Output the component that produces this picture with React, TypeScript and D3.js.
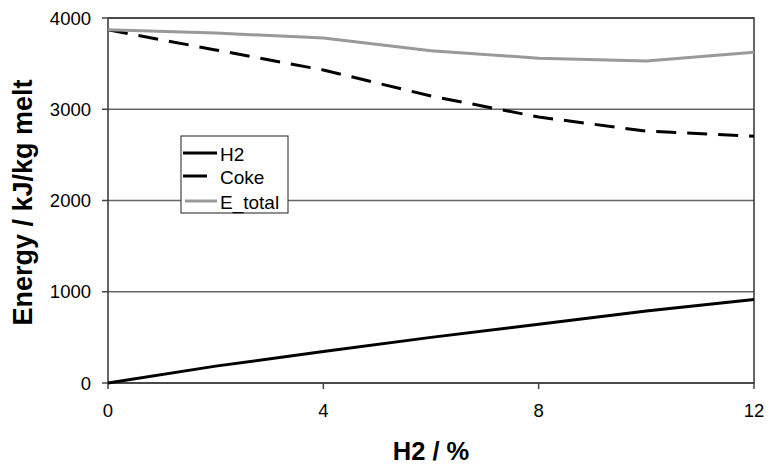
import * as d3 from "d3";

const xValues = [0, 2, 4, 6, 8, 10, 12];
const h2Values = [0, 185, 345, 500, 645, 790, 915];
const cokeValues = [3870, 3650, 3430, 3145, 2915, 2760, 2705];
const totalValues = [3870, 3835, 3780, 3640, 3560, 3530, 3625];
const xTicks = [0, 4, 8, 12];
const yTicks = [0, 1000, 2000, 3000, 4000];

const seriesList = [
  { name: "H2", values: h2Values, color: "#000", dash: "", legendX: [183, 217], legendY: 153 },
  { name: "Coke", values: cokeValues, color: "#000", dash: "20,11", legendX: [183, 207], legendY: 176 },
  { name: "E_total", values: totalValues, color: "#999", dash: "", legendX: [185, 217], legendY: 201 },
];

const W = 769;
const H = 466;
const LEFT = 108;
const RIGHT = 754;
const TOP = 18;
const BOTTOM = 383;
const FONT = "'Liberation Sans', Arial, sans-serif";

const App = () => {
  const x = d3.scaleLinear().domain([0, 12]).range([LEFT, RIGHT]);
  const y = d3.scaleLinear().domain([0, 4000]).range([BOTTOM, TOP]);

  const line = d3
    .line<number>()
    .x((_, i) => x(xValues[i]))
    .y((d) => y(d));

  return (
    <svg
      width={W}
      height={H}
      style={{ position: "absolute", left: 0, top: 0, background: "#fff" }}
    >
      {/* gridlines */}
      {yTicks.map((t) => (
        <line
          key={"g" + t}
          x1={LEFT}
          x2={RIGHT}
          y1={y(t)}
          y2={y(t)}
          stroke="#666"
          strokeWidth={1.5}
        />
      ))}
      {/* plot border */}
      <rect
        x={LEFT}
        y={TOP}
        width={RIGHT - LEFT}
        height={BOTTOM - TOP}
        fill="none"
        stroke="#333"
        strokeWidth={1.5}
      />
      {/* y ticks */}
      {yTicks.map((t) => (
        <g key={"y" + t}>
          <line x1={LEFT - 6} x2={LEFT} y1={y(t)} y2={y(t)} stroke="#444" strokeWidth={1.5} />
          <text
            x={LEFT - 17}
            y={y(t)}
            textAnchor="end"
            dominantBaseline="central"
            fontSize={18.5}
            fontFamily={FONT}
            fill="#000"
          >
            {t}
          </text>
        </g>
      ))}
      {/* x ticks */}
      {xTicks.map((t) => (
        <g key={"x" + t}>
          <line x1={x(t)} x2={x(t)} y1={BOTTOM} y2={BOTTOM + 6} stroke="#444" strokeWidth={1.5} />
          <text
            x={x(t)}
            y={BOTTOM + 34}
            textAnchor="middle"
            fontSize={18.5}
            fontFamily={FONT}
            fill="#000"
          >
            {t}
          </text>
        </g>
      ))}
      {/* series */}
      {seriesList.map((s) => (
        <path
          key={s.name}
          d={line(s.values) as string}
          fill="none"
          stroke={s.color}
          strokeWidth={3}
          strokeDasharray={s.dash}
          strokeLinejoin="round"
        />
      ))}
      {/* legend */}
      <g>
        <rect x={181} y={136} width={107} height={77} fill="#fff" stroke="#444" strokeWidth={1.2} />
        {seriesList.map((s) => (
          <g key={"l" + s.name}>
            <line
              x1={s.legendX[0]}
              x2={s.legendX[1]}
              y1={s.legendY}
              y2={s.legendY}
              stroke={s.color}
              strokeWidth={3}
            />
            <text
              x={220}
              y={s.legendY + 1}
              dominantBaseline="central"
              fontSize={19}
              fontFamily={FONT}
              fill="#000"
            >
              {s.name}
            </text>
          </g>
        ))}
      </g>
      {/* axis titles */}
      <text
        x={431}
        y={460}
        textAnchor="middle"
        fontSize={25.5}
        fontWeight="bold"
        fontFamily={FONT}
        fill="#000"
      >
        H2 / %
      </text>
      <text
        transform={`translate(32, 202.5) rotate(-90)`}
        textAnchor="middle"
        fontSize={27}
        fontWeight="bold"
        fontFamily={FONT}
        fill="#000"
      >
        Energy / kJ/kg melt
      </text>
    </svg>
  );
};

export default App;
